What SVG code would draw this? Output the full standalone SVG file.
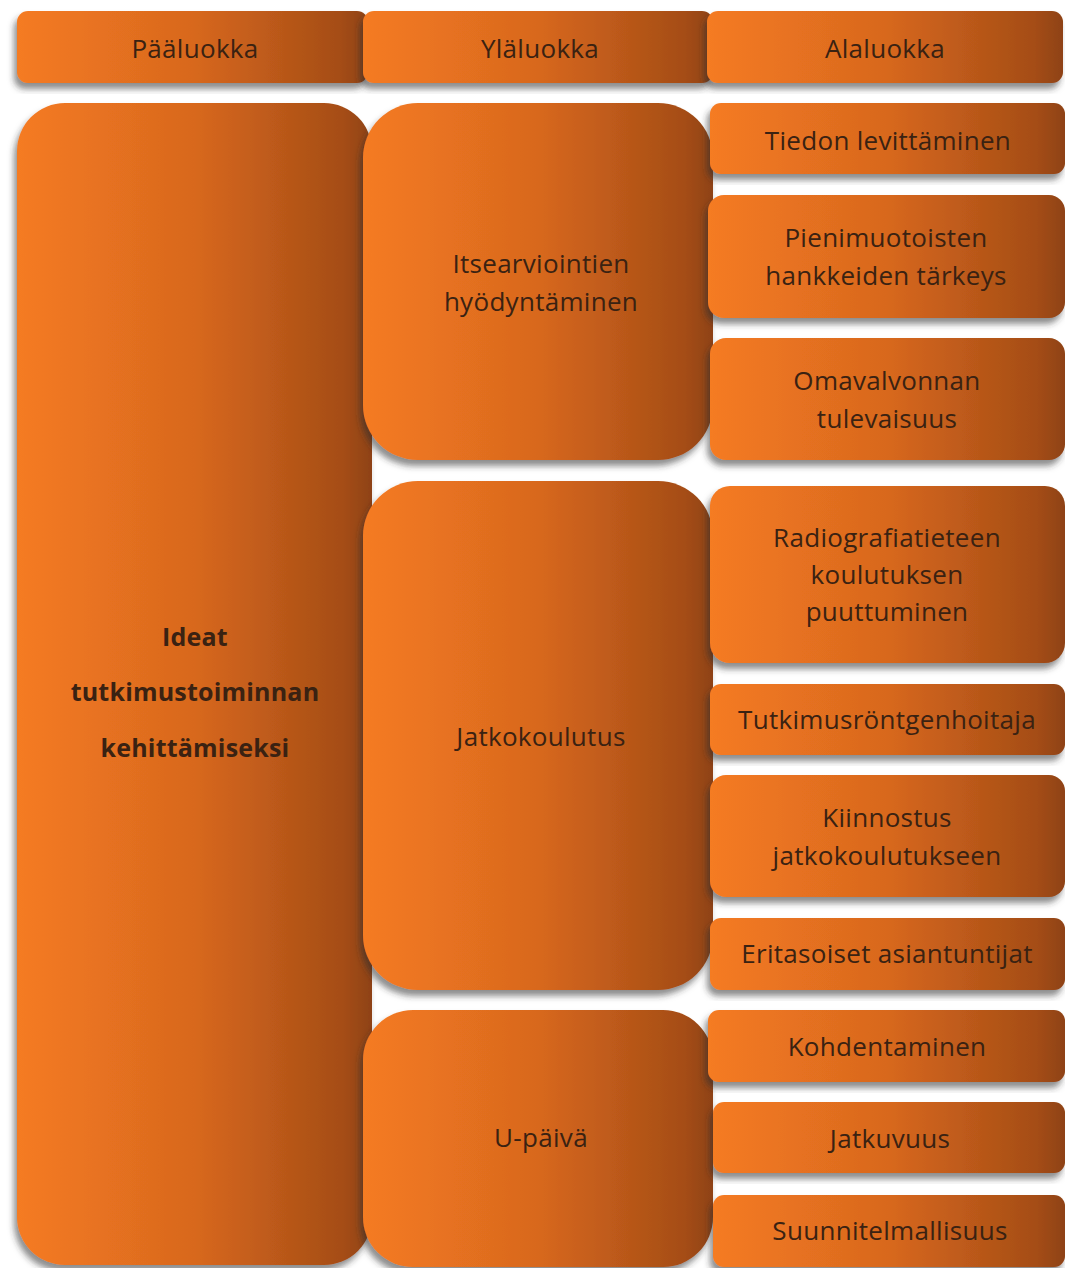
<svg xmlns="http://www.w3.org/2000/svg" width="1065" height="1268" viewBox="0 0 1065 1268">
<defs>
<linearGradient id="g" x1="0" y1="0" x2="1" y2="0">
<stop offset="0" stop-color="#F57B22"/>
<stop offset="0.5" stop-color="#D8681E"/>
<stop offset="0.92" stop-color="#A54D16"/>
<stop offset="1" stop-color="#8E4212"/>
</linearGradient>
<filter id="sh" x="-10%" y="-10%" width="120%" height="125%">
<feDropShadow dx="-3" dy="6" stdDeviation="3" flood-color="#333" flood-opacity="0.55"/>
</filter>
</defs>
<style>
.b{fill:url(#g);filter:url(#sh)}
.t{font-family:"Open Sans","Liberation Sans",sans-serif;font-size:26px;letter-spacing:0.3px;fill:#3A2212;text-anchor:middle;dominant-baseline:central}
.bt{font-weight:bold;font-size:25px;letter-spacing:0.2px}
</style>
<rect width="1065" height="1268" fill="#fff"/>
<g id="h1"><rect class="b" x="17" y="11" width="351" height="72" rx="11"/><text class="t" x="195" y="48">Pääluokka</text></g>
<g id="h2"><rect class="b" x="363" y="11" width="350" height="72" rx="11"/><text class="t" x="540" y="48">Yläluokka</text></g>
<g id="h3"><rect class="b" x="707" y="11" width="356" height="72" rx="11"/><text class="t" x="885" y="48">Alaluokka</text></g>
<g id="main"><rect class="b" x="17" y="103" width="355" height="1162" rx="48"/>
<text class="t bt" x="195" y="636">Ideat</text><text class="t bt" x="195" y="691">tutkimustoiminnan</text><text class="t bt" x="195" y="747">kehittämiseksi</text></g>
<g id="y1"><rect class="b" x="363" y="103" width="350" height="357" rx="55"/><text class="t" x="541" y="263">Itsearviointien</text><text class="t" x="541" y="301">hyödyntäminen</text></g>
<g id="y2"><rect class="b" x="363" y="481" width="350" height="509" rx="55"/><text class="t" x="541" y="736">Jatkokoulutus</text></g>
<g id="y3"><rect class="b" x="363" y="1010" width="350" height="257" rx="50"/><text class="t" x="541" y="1137">U-päivä</text></g>
<g id="a1"><rect class="b" x="710" y="103" width="355" height="71" rx="11"/><text class="t" x="888" y="140">Tiedon levittäminen</text></g>
<g id="a2"><rect class="b" x="708" y="195" width="357" height="123" rx="16"/><text class="t" x="886" y="237">Pienimuotoisten</text><text class="t" x="886" y="275">hankkeiden tärkeys</text></g>
<g id="a3"><rect class="b" x="710" y="338" width="355" height="122" rx="16"/><text class="t" x="887" y="380">Omavalvonnan</text><text class="t" x="887" y="418">tulevaisuus</text></g>
<g id="a4"><rect class="b" x="710" y="486" width="355" height="177" rx="20"/><text class="t" x="887" y="537">Radiografiatieteen</text><text class="t" x="887" y="574">koulutuksen</text><text class="t" x="887" y="611">puuttuminen</text></g>
<g id="a5"><rect class="b" x="710" y="684" width="355" height="71" rx="11"/><text class="t" x="887" y="719">Tutkimusröntgenhoitaja</text></g>
<g id="a6"><rect class="b" x="710" y="775" width="355" height="122" rx="16"/><text class="t" x="887" y="817">Kiinnostus</text><text class="t" x="887" y="855">jatkokoulutukseen</text></g>
<g id="a7"><rect class="b" x="710" y="918" width="355" height="72" rx="11"/><text class="t" x="887" y="953">Eritasoiset asiantuntijat</text></g>
<g id="a8"><rect class="b" x="708" y="1010" width="357" height="72" rx="11"/><text class="t" x="887" y="1046">Kohdentaminen</text></g>
<g id="a9"><rect class="b" x="713" y="1102" width="352" height="71" rx="11"/><text class="t" x="890" y="1138">Jatkuvuus</text></g>
<g id="a10"><rect class="b" x="713" y="1195" width="352" height="72" rx="11"/><text class="t" x="890" y="1230">Suunnitelmallisuus</text></g>
<g id="connectors"/>
</svg>
